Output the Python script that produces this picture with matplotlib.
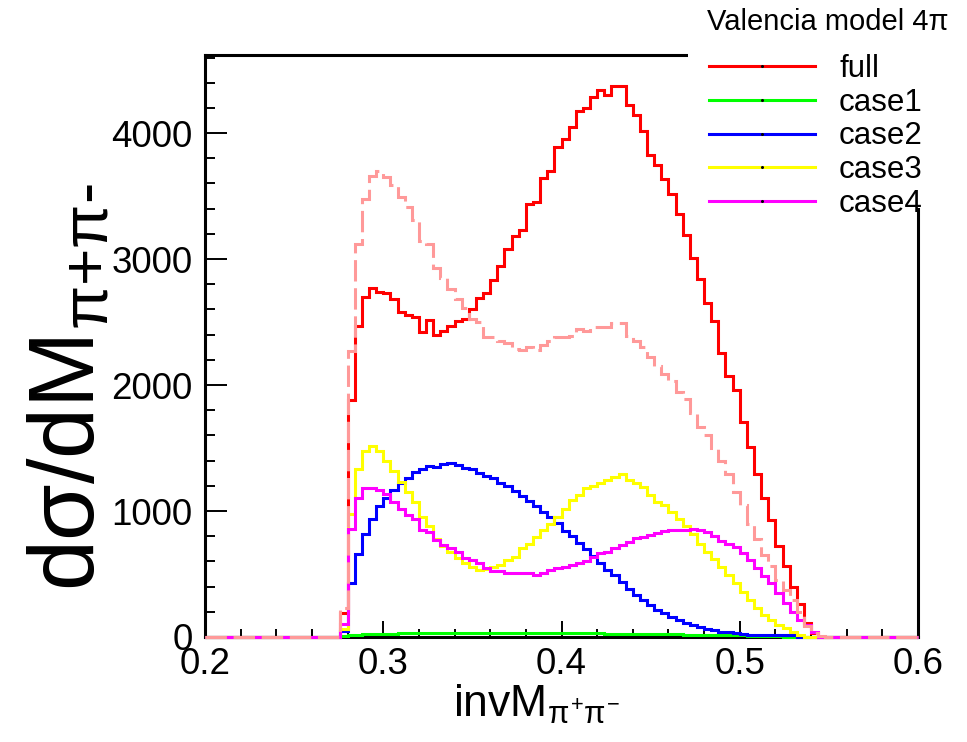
import numpy as np
import matplotlib
matplotlib.use("Agg")
import matplotlib.pyplot as plt
from matplotlib.lines import Line2D
from matplotlib.patches import Rectangle

plt.rcParams['font.family'] = ['Liberation Sans', 'DejaVu Sans']
plt.rcParams['mathtext.fontset'] = 'custom'
plt.rcParams['mathtext.rm'] = 'Liberation Sans'
plt.rcParams['mathtext.it'] = 'Liberation Sans'
plt.rcParams['mathtext.sf'] = 'Liberation Sans'
plt.rcParams['mathtext.bf'] = 'Liberation Sans:bold'

# ---------------- data (100 bins from 0.2 to 0.6) ----------------
x_min, x_max, n_bins = 0.2, 0.6, 100

full = [0]*19 + [190, 1880, 2470, 2700, 2770, 2740, 2730, 2680, 2580, 2560,
                 2540, 2420, 2520, 2400, 2430, 2470, 2505, 2525, 2605, 2690,
                 2730, 2835, 2945, 3080, 3185, 3230, 3440, 3450, 3640, 3700,
                 3890, 3955, 4050, 4175, 4200, 4285, 4345, 4305, 4370, 4370,
                 4225, 4145, 4015, 3830, 3745, 3635, 3520, 3360, 3190, 3005,
                 2840, 2655, 2510, 2255, 2075, 1960, 1705, 1505, 1290, 1100,
                 925, 720, 560, 400, 260, 115, 30] + [0]*14

full_dashed = [0]*19 + [230, 2270, 3120, 3475, 3660, 3700, 3650, 3590, 3490, 3410,
                        3310, 3145, 3120, 2930, 2850, 2760, 2680, 2610, 2525, 2500,
                        2380, 2380, 2350, 2335, 2290, 2275, 2305, 2275, 2320, 2350,
                        2380, 2380, 2390, 2445, 2430, 2460, 2460, 2460, 2495, 2495,
                        2390, 2350, 2305, 2220, 2155, 2090, 2035, 1945, 1890, 1780,
                        1670, 1600, 1500, 1400, 1290, 1150, 1050, 900, 780, 650,
                        560, 450, 370, 290, 200, 90, 30, 10] + [0]*13

case1 = [0]*19 + [5, 15, 15] + [24]*5 + [34]*29 + [24]*11 + [13]*9 + [6]*5 + [0]*19

case2 = [0]*19 + [45, 425, 655, 820, 940, 1040, 1100, 1170, 1220, 1260,
                  1310, 1330, 1360, 1350, 1370, 1380, 1365, 1345, 1330, 1300,
                  1275, 1260, 1225, 1195, 1160, 1120, 1080, 1040, 990, 950,
                  905, 840, 800, 745, 700, 640, 585, 530, 490, 440,
                  385, 335, 295, 255, 215, 190, 160, 135, 115, 95,
                  80, 62, 52, 42, 38, 30, 25, 16, 16, 16,
                  16, 16, 16, 16] + [0]*17

case3 = [0]*19 + [60, 980, 1335, 1475, 1515, 1475, 1395, 1315, 1230, 1150,
                  1070, 955, 885, 780, 720, 675, 630, 585, 555, 530,
                  540, 555, 570, 610, 635, 705, 740, 795, 850, 900,
                  955, 1020, 1085, 1125, 1180, 1200, 1220, 1245, 1270, 1290,
                  1245, 1220, 1190, 1125, 1070, 1045, 995, 940, 880, 820,
                  742, 676, 623, 557, 491, 425, 359, 293, 227, 174,
                  135, 95, 69, 42, 16] + [0]*16

case4 = [0]*19 + [100, 860, 1100, 1180, 1180, 1165, 1135, 1070, 1020, 965,
                  940, 850, 835, 770, 730, 705, 675, 625, 610, 585,
                  545, 525, 525, 505, 505, 505, 505, 490, 510, 530,
                  545, 555, 570, 585, 605, 636, 663, 676, 703, 729,
                  755, 782, 795, 808, 826, 842, 853, 853, 853, 861,
                  850, 835, 805, 765, 740, 716, 663, 610, 544, 483,
                  430, 346, 267, 200, 135, 95, 42] + [0]*14

labels = ["full", "case1", "case2", "case3", "case4"]
legend_title = "Valencia model 4π"
x_ticks = [0.2, 0.3, 0.4, 0.5, 0.6]
y_ticks = [0, 1000, 2000, 3000, 4000]

# ---------------- figure ----------------
W, H = 967, 742
fig = plt.figure(figsize=(W/100, H/100), dpi=100)
ax = fig.add_axes([205/W, 1-637/H, (918-205)/W, (637-55)/H])

edges = np.linspace(x_min, x_max, n_bins + 1)
lw = 2.2
series = [(full, '#ff0000'), (case1, '#00ff00'), (case2, '#0000ff'),
          (case3, '#ffff00'), (case4, '#ff00ff')]
handles = []
for i, (vals, col) in enumerate(series):
    ax.stairs(vals, edges, color=col, lw=lw, baseline=None, zorder=3+i, clip_on=False)
    handles.append(Line2D([0], [0], color=col, lw=lw, marker='o', markersize=1.2,
                          markerfacecolor='k', markeredgecolor='k'))
ax.stairs(full_dashed, edges, color='#ff9999', lw=lw, baseline=None, zorder=9,
          clip_on=False, linestyle=(0, (7, 2.2)))

ax.set_xlim(x_min, x_max)
ax.set_ylim(0, 4620)
ax.set_xticks(x_ticks)
ax.set_xticklabels([f"{v:.1f}" for v in x_ticks])
ax.set_yticks(y_ticks)
ax.set_yticklabels([str(v) for v in y_ticks])
ax.set_xticks(np.arange(0.2, 0.6001, 0.02), minor=True)
ax.set_yticks(np.arange(0, 4620, 200), minor=True)

ax.tick_params(axis='both', which='both', direction='in', top=False, right=False,
               labelsize=26.5, width=1.4, colors='black')
ax.tick_params(axis='y', which='major', length=15.5, pad=9)
ax.tick_params(axis='y', which='minor', length=7.5)
ax.tick_params(axis='x', which='major', length=11.5, pad=7)
ax.tick_params(axis='x', which='minor', length=5.5)

for s in ax.spines.values():
    s.set_linewidth(2.2)

ax.set_xlabel("invM$_{\\pi^{+}\\pi^{-}}$", fontsize=32)
ax.xaxis.set_label_coords(0.465, -0.078)
ax.set_ylabel("dσ/dM$_{\\pi\\text{+}\\pi\\text{-}}$", fontsize=66)
ax.yaxis.set_label_coords(-0.128, 0.43)

# white legend panel covering the upper-right frame corner
fig.add_artist(Rectangle((688/W, 1-208/H), 1, 1, transform=fig.transFigure,
                         facecolor='white', edgecolor='none', zorder=1))
fig.text(707/W, 1-22/H, legend_title, ha='left', va='center', fontsize=21,
         zorder=6)
leg = fig.legend(handles, labels, loc='upper left',
                 bbox_to_anchor=(709/W, 1-54/H), bbox_transform=fig.transFigure,
                 frameon=False, fontsize=22.5,
                 handlelength=3.39, handletextpad=0.77, labelspacing=0.12,
                 borderpad=0, borderaxespad=0, numpoints=1)
leg.set_zorder(5)

fig.savefig("out.png", dpi=100)
